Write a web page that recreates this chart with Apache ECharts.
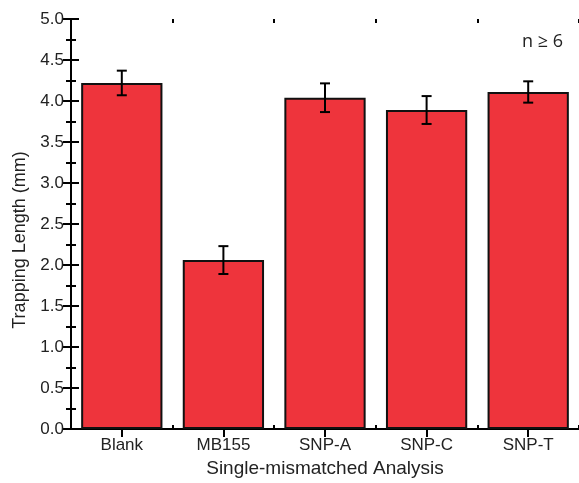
<!DOCTYPE html>
<html>
<head>
<meta charset="utf-8">
<script src="https://cdn.jsdelivr.net/npm/echarts@6/dist/echarts.min.js"></script>
<style>
  html, body { margin: 0; padding: 0; background: #fff; }
  #chart { width: 579px; height: 483px; }
</style>
</head>
<body>
<div id="chart"></div>
<script>
// data
const categories = ['Blank', 'MB155', 'SNP-A', 'SNP-C', 'SNP-T'];
const means = [4.22, 2.06, 4.04, 3.89, 4.11];
const errors = [0.15, 0.17, 0.175, 0.17, 0.13];
const yTicks = [0, 0.5, 1.0, 1.5, 2.0, 2.5, 3.0, 3.5, 4.0, 4.5, 5.0];

const font = 'Liberation Sans';
const barColor = '#ee343c';

const chart = echarts.init(document.getElementById('chart'), null, { renderer: 'canvas' });

// bar axes (ticks at centres) plus hidden value axes for the boundary ticks
function catAxis(pos, showLabel) {
  return {
    type: 'category',
    position: pos,
    data: categories,
    axisLine: { show: true, lineStyle: { color: '#000', width: 2 } },
    axisTick: { show: true, inside: true, alignWithLabel: true, length: 8, lineStyle: { color: '#000', width: 2 } },
    axisLabel: { show: showLabel, margin: 8, fontFamily: font, fontSize: 17, color: '#222' },
    splitLine: { show: false }
  };
}
function boundAxis(pos) {
  return {
    type: 'value',
    position: pos,
    min: 0,
    max: categories.length,
    interval: 1,
    axisLine: { show: false },
    axisTick: { show: true, inside: true, length: 4, lineStyle: { color: '#000', width: 2 } },
    axisLabel: { show: false },
    splitLine: { show: false }
  };
}
function valAxis(pos, showLabel) {
  return {
    type: 'value',
    position: pos,
    min: yTicks[0],
    max: yTicks[yTicks.length - 1],
    interval: 0.5,
    axisLine: { show: true, lineStyle: { color: '#000', width: 2 } },
    axisTick: { show: true, inside: true, length: 8, lineStyle: { color: '#000', width: 2 } },
    minorTick: { show: true, splitNumber: 2, length: 5, lineStyle: { color: '#000', width: 2 } },
    axisLabel: {
      show: showLabel, margin: 7, fontFamily: font, fontSize: 17, color: '#222',
      formatter: v => v.toFixed(1)
    },
    splitLine: { show: false }
  };
}

const xCat = catAxis('bottom', true);
xCat.name = 'Single-mismatched Analysis';
xCat.nameLocation = 'middle';
xCat.nameGap = 28;
xCat.nameTextStyle = { fontFamily: font, fontSize: 19, color: '#222' };

chart.setOption({
  animation: false,
  grid: { left: 71, right: -1, top: 19, bottom: 54 },
  xAxis: [xCat, catAxis('top', false), boundAxis('bottom'), boundAxis('top')],
  yAxis: [valAxis('left', true), valAxis('right', false)],
  graphic: [
    {
      type: 'text',
      x: 20,
      y: 240,
      rotation: Math.PI / 2,
      style: {
        text: 'Trapping Length (mm)', fontFamily: font, fontSize: 18, fill: '#222',
        align: 'center', verticalAlign: 'middle'
      }
    },
    {
      type: 'text',
      left: 522,
      top: 33,
      style: { text: 'n ≥ 6', fontFamily: 'Open Sans', fontSize: 18, fill: '#222' }
    }
  ],
  series: [
    {
      type: 'bar',
      xAxisIndex: 0,
      yAxisIndex: 0,
      data: means,
      barCategoryGap: '20%',
      itemStyle: { color: barColor, borderColor: '#111', borderWidth: 2 }
    },
    {
      type: 'custom',
      xAxisIndex: 0,
      yAxisIndex: 0,
      data: means.map((m, i) => [i, m - errors[i], m + errors[i]]),
      z: 10,
      renderItem(params, api) {
        const lo = api.coord([api.value(0), api.value(1)]);
        const hi = api.coord([api.value(0), api.value(2)]);
        const half = 5;
        const style = { stroke: '#000', lineWidth: 2 };
        return {
          type: 'group',
          children: [
            { type: 'line', shape: { x1: hi[0], y1: hi[1], x2: lo[0], y2: lo[1] }, style },
            { type: 'line', shape: { x1: hi[0] - half, y1: hi[1], x2: hi[0] + half, y2: hi[1] }, style },
            { type: 'line', shape: { x1: lo[0] - half, y1: lo[1], x2: lo[0] + half, y2: lo[1] }, style }
          ]
        };
      }
    }
  ]
});
</script>
</body>
</html>
